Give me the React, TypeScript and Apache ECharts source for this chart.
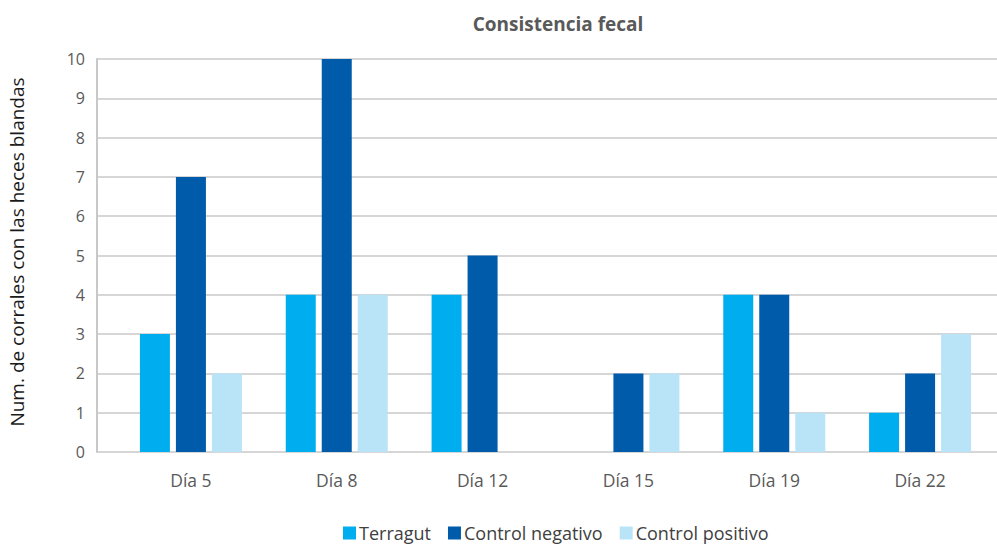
import React, { useEffect, useRef } from "react";
import * as echarts from "echarts";

const categories = ["Día 5", "Día 8", "Día 12", "Día 15", "Día 19", "Día 22"];
const terragut = [3, 4, 4, 0, 4, 1];
const controlNegativo = [7, 10, 5, 2, 4, 2];
const controlPositivo = [2, 4, 0, 2, 1, 3];
const yTicks = [0, 10];
const seriesNames = ["Terragut", "Control negativo", "Control positivo"];
const colors = ["#00AEEF", "#005BAA", "#B9E4F8"];

export default function App() {
  const ref = useRef<HTMLDivElement>(null);
  useEffect(() => {
    const chart = echarts.init(ref.current!, null, { renderer: "svg" });
    const font = "'Open Sans', 'Noto Sans', sans-serif";
    chart.setOption({
      animation: false,
      textStyle: { fontFamily: font },
      title: {
        text: "Consistencia fecal",
        left: 553,
        textAlign: "center",
        top: 9,
        textStyle: { fontSize: 19, fontWeight: "bold", color: "#595959", fontFamily: font },
      },
      legend: {
        data: seriesNames,
        left: 338,
        top: 519,
        itemWidth: 13,
        itemHeight: 13,
        itemGap: 17,
        icon: "rect",
        textStyle: { fontSize: 18, color: "#404040", fontFamily: font, padding: [0, 0, 0, -2] },
      },
      grid: [
        { left: 97, right: 0, top: 59, bottom: 94 },
        { left: 118, right: 4, top: 59, bottom: 94 },
      ],
      xAxis: [
        { type: "value", gridIndex: 0, show: false, min: 0, max: 1 },
        {
          type: "category",
          gridIndex: 1,
          data: categories,
          axisLine: { show: false },
          axisTick: { show: false },
          axisLabel: { fontSize: 17.5, color: "#595959", margin: 19, fontFamily: font },
        },
      ],
      yAxis: [
        {
          type: "value",
          gridIndex: 0,
          min: yTicks[0],
          max: yTicks[1],
          interval: 1,
          axisLine: { show: true, lineStyle: { color: "#C8C8C8", width: 2 } },
          axisTick: { show: false },
          splitLine: { lineStyle: { color: "#C8C8C8", width: 1.5 } },
          axisLabel: { fontSize: 16, color: "#595959", margin: 12, fontFamily: font },
        },
        {
          type: "value",
          gridIndex: 1,
          min: yTicks[0],
          max: yTicks[1],
          show: false,
          splitLine: { show: false },
        },
      ],
      graphic: [
        {
          type: "text",
          x: 17,
          y: 252,
          rotation: Math.PI / 2,
          style: {
            text: "Num. de corrales con las heces blandas",
            fontSize: 19,
            fill: "#1a1a1a",
            fontFamily: font,
            textAlign: "center",
            textVerticalAlign: "middle",
          },
        },
      ],
      series: [terragut, controlNegativo, controlPositivo].map((d, i) => ({
        name: seriesNames[i],
        type: "bar",
        xAxisIndex: 1,
        yAxisIndex: 1,
        data: d,
        barWidth: 30,
        barGap: "20%",
        itemStyle: { color: colors[i] },
      })),
    });
    return () => chart.dispose();
  }, []);
  return <div ref={ref} style={{ width: 997, height: 546, position: "absolute", left: 0, top: 0 }} />;
}
